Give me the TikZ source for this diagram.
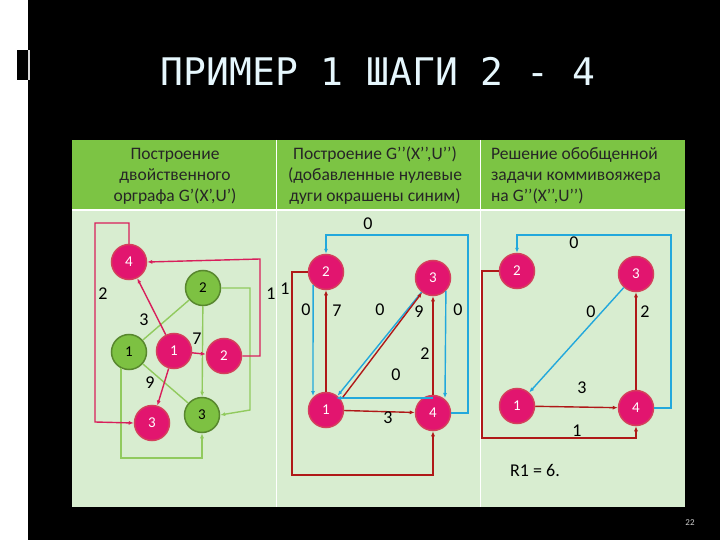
\documentclass[tikz,border=0pt]{standalone}
\usepackage{fontspec}
\setmainfont{Carlito}
\newfontfamily\titlefont{DejaVu Sans Mono}
\usetikzlibrary{arrows.meta}
\definecolor{hdr}{HTML}{7CC444}
\definecolor{bdy}{HTML}{D8EDD0}
\definecolor{mag}{HTML}{E2156F}
\definecolor{grn}{HTML}{7DC142}
\definecolor{drk}{HTML}{B01818}
\definecolor{blu}{HTML}{22A8DC}
\definecolor{pnk}{HTML}{D81E5B}
\begin{document}
\begin{tikzpicture}[x=1pt,y=-1pt,
  rn/.style={circle,fill=mag,draw=mag!60!brown,line width=1.5pt,minimum size=35pt,inner sep=0pt,text=white,font=\fontsize{15}{15}\selectfont},
  gn/.style={circle,fill=grn,draw=grn!70!black,line width=1.5pt,minimum size=35pt,inner sep=0pt,text=black,font=\fontsize{15}{15}\selectfont},
  pe/.style={pnk,line width=1.4pt,-{Latex[length=5pt,width=4pt]}},
  ge/.style={grn!85!white,line width=1.4pt,-{Latex[length=5pt,width=4pt]}},
  de/.style={drk,line width=1.4pt,-{Latex[length=5pt,width=4pt]}},
  be/.style={blu,line width=1.4pt,-{Latex[length=5pt,width=4pt]}},
  lb/.style={font=\fontsize{18}{18}\selectfont,inner sep=0pt},
  hd/.style={font=\fontsize{17.5}{21}\selectfont,text=black!85,align=center,inner sep=0pt}]
\useasboundingbox (0,0) rectangle (720,540);
\fill[white] (0,0) rectangle (720,540);
\fill[black] (28,0) rectangle (720,540);
\fill[black] (17,50) rectangle (28,80);
\fill[white!85!black] (28,50) rectangle (30,80);
\node[font=\titlefont\fontsize{38}{38}\selectfont,text=white!90!cyan] (title) at (378,71) {ПРИМЕР 1 ШАГИ 2 - 4};
% table
\fill[hdr] (72,140) rectangle (685,210);
\fill[bdy] (72,210) rectangle (685,507);
\draw[white,line width=1pt] (276,140) -- (276,507) (480,140) -- (480,507);
\draw[white,line width=1.2pt] (72,210) -- (685,210);
\node[hd] (h1) at (175,176) {Построение\\двойственного\\орграфа G’(X’,U’)};
\node[hd] (h2) at (375,176) {Построение G’’(X’’,U’’)\\(добавленные нулевые\\дуги окрашены синим)};
\node[hd,align=left] (h3) at (576,176) {Решение обобщенной\\задачи коммивояжера\\на  G’’(X’’,U’’)};
% left panel
\node[rn] (r4) at (129,262) {4};
\node[gn] (g2) at (203,288) {2};
\node[gn] (g1) at (129,352) {1};
\node[gn] (g3) at (202,415) {3};
\node[rn] (r1) at (174,351) {1};
\node[rn] (r2) at (224,356) {2};
\node[rn] (r3) at (152,423) {3};
\draw[ge,-] (g1) -- (g2);
\draw[ge] (g2) -- (g3);
\draw[ge] (g2.east) -- (250,288) -- (250,410) -- (g3.east);
\draw[ge,-] (g3) -- (g1);
\draw[ge] (g1.south) ++(-8,-2) coordinate (ga) -- (121,458) -- (202,458) -- (g3.south);
\draw[pe] (r4.north) -- (129,223) -- (95,223) -- (95,422) -- (r3.west);
\draw[pe] (r2.east) -- (260,356) -- (260,259) -- (r4.east);
\draw[pe] (r1) -- (r4);
\draw[pe] (r1) -- (r2);
\draw[pe] (r1) -- (r3);
\node[lb] (l2) at (103,294) {2};
\node[lb] (l1a) at (271,294) {1};
\node[lb] (l3) at (144,320) {3};
\node[lb] (l7) at (197,339) {7};
\node[lb] (l9) at (150,383) {9};
% middle panel
\node[rn] (m2) at (326,272) {2};
\node[rn] (m3) at (433,278) {3};
\node[rn] (m1) at (326,410) {1};
\node[rn] (m4) at (433,413) {4};
\draw[be] (m2.south west) -- (313,396);
\draw[be] (m3) -- (m1);
\draw[be] (m3.-45) -- (445,398);
\draw[be] (m4) ++(0,-15) -- (336,398);
\draw[be] (m4.east) -- (468,413) -- (468,235) -- (326,235) -- (m2.north);
\draw[de] (m1) -- (m2);
\draw[de] ([xshift=4pt]m1.north east) -- (m3);
\draw[de] (m1) -- (m4);
\draw[de] (m4) -- (m3);
\draw[de] (m2.west) -- (292,272) -- (292,475) -- (433,475) -- (m4.south);
\node[lb] at (285,289) {1};
\node[lb] at (306,310) {0};
\node[lb] at (337,311) {7};
\node[lb] at (380,310) {0};
\node[lb] at (419,312) {9};
\node[lb] at (458,310) {0};
\node[lb] at (425,354) {2};
\node[lb] at (396,375) {0};
\node[lb] at (388,418) {3};
\node[lb] at (368,224) {0};
% right panel
\node[rn] (s2) at (517,271) {2};
\node[rn] (s3) at (636,274) {3};
\node[rn] (s1) at (517,406) {1};
\node[rn] (s4) at (636,408) {4};
\draw[be] (s3) -- (s1);
\draw[be] (s4.east) -- (671,408) -- (671,235) -- (517,235) -- (s2.north);
\draw[de] (s1) -- (s4);
\draw[de] (s4) -- (s3);
\draw[de] (s2.west) -- (482,271) -- (482,438) -- (636,438) -- (s4.south);
\node[lb] at (574,243) {0};
\node[lb] at (591,312) {0};
\node[lb] at (645,312) {2};
\node[lb] at (582,388) {3};
\node[lb] at (577,431) {1};
\node[lb,anchor=west] (res) at (510,470) {R1 = 6.};
\node[font=\fontsize{9}{9}\selectfont,text=white!80!black] (pg) at (690,523) {22};
\end{tikzpicture}
\end{document}
